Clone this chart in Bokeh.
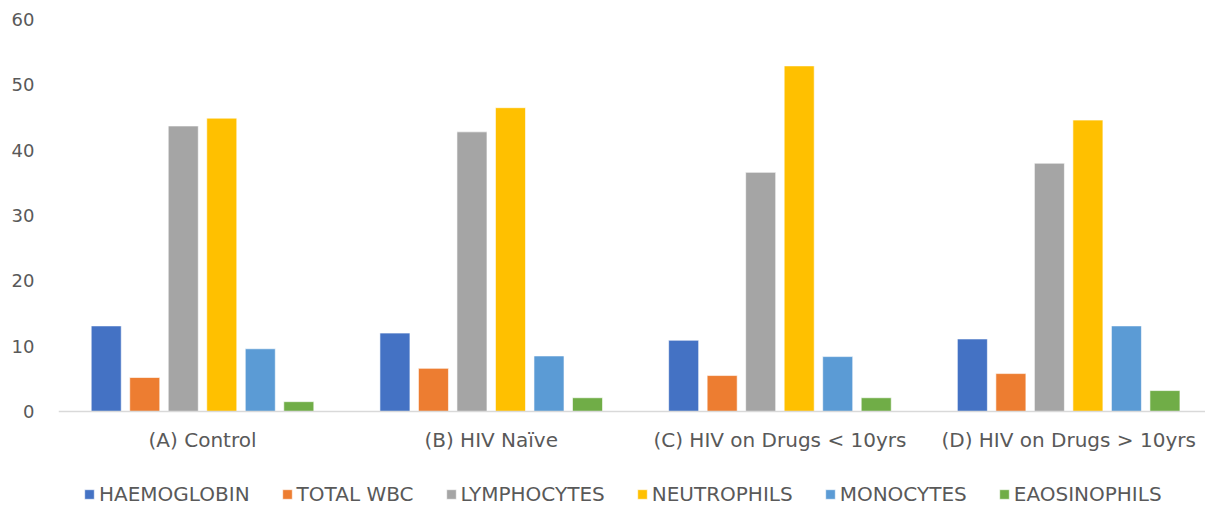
from bokeh.plotting import figure
from bokeh.models import Range1d, FixedTicker, Legend, LegendItem, ColumnDataSource
from bokeh.embed import file_html
from bokeh.resources import INLINE

categories = ["(A) Control", "(B) HIV Naïve", "(C) HIV on Drugs < 10yrs", "(D) HIV on Drugs > 10yrs"]
series = ["HAEMOGLOBIN", "TOTAL WBC", "LYMPHOCYTES", "NEUTROPHILS", "MONOCYTES", "EAOSINOPHILS"]
haemoglobin = [13.1, 12.0, 10.9, 11.1]
total_wbc = [5.2, 6.6, 5.5, 5.8]
lymphocytes = [43.7, 42.8, 36.6, 38.0]
neutrophils = [44.9, 46.5, 52.9, 44.6]
monocytes = [9.6, 8.5, 8.4, 13.1]
eaosinophils = [1.5, 2.1, 2.1, 3.2]
y_ticks = [0, 10, 20, 30, 40, 50, 60]

values = [haemoglobin, total_wbc, lymphocytes, neutrophils, monocytes, eaosinophils]
colors = ["#4472C4", "#ED7D31", "#A5A5A5", "#FFC000", "#5B9BD5", "#70AD47"]

FONT = "DejaVu Sans"
TXT = "#595959"

p = figure(width=1205, height=508, output_backend="svg", toolbar_location=None,
           x_range=Range1d(-0.4988, 3.474), y_range=Range1d(-14.85, 60),
           min_border_left=58, min_border_right=0, min_border_top=19, min_border_bottom=0)
p.outline_line_color = None
p.xgrid.grid_line_color = None
p.ygrid.grid_line_color = None

pitch = 0.1334
bw = 0.104
x_idx = list(range(len(categories)))
items = []
for i, (name, vals, col) in enumerate(zip(series, values, colors)):
    src = ColumnDataSource(dict(x=[xi + (i - 2.5) * pitch for xi in x_idx], top=vals))
    r = p.vbar(x="x", top="top", width=bw, bottom=0, source=src, fill_color=col,
               line_color="white", line_width=1, line_alpha=0.6)
    items.append(LegendItem(label=name, renderers=[r]))

p.xaxis.fixed_location = 0
p.xaxis.ticker = FixedTicker(ticks=x_idx)
p.xaxis.major_label_overrides = {i: c for i, c in enumerate(categories)}
p.xaxis.major_tick_line_color = None
p.xaxis.minor_tick_line_color = None
p.xaxis.axis_line_color = "#D9D9D9"
p.xaxis.axis_line_width = 1.5
p.xaxis.major_label_text_font = FONT
p.xaxis.major_label_text_font_size = "20px"
p.xaxis.major_label_text_color = TXT
p.xaxis.major_label_standoff = 11

p.yaxis.ticker = FixedTicker(ticks=y_ticks)
p.yaxis.major_tick_line_color = None
p.yaxis.minor_tick_line_color = None
p.yaxis.axis_line_color = None
p.yaxis.major_label_text_font = FONT
p.yaxis.major_label_text_font_size = "18px"
p.yaxis.major_label_text_color = TXT
p.yaxis.major_label_standoff = 18

legend = Legend(items=items, orientation="horizontal", location=(25, 2),
                glyph_width=12, glyph_height=12, label_standoff=4, spacing=31,
                padding=2, margin=0, border_line_color=None, background_fill_alpha=0,
                label_text_font=FONT, label_text_font_size="20px", label_text_color=TXT)
p.add_layout(legend, "center")

open("out.html", "w").write(file_html(p, INLINE))
